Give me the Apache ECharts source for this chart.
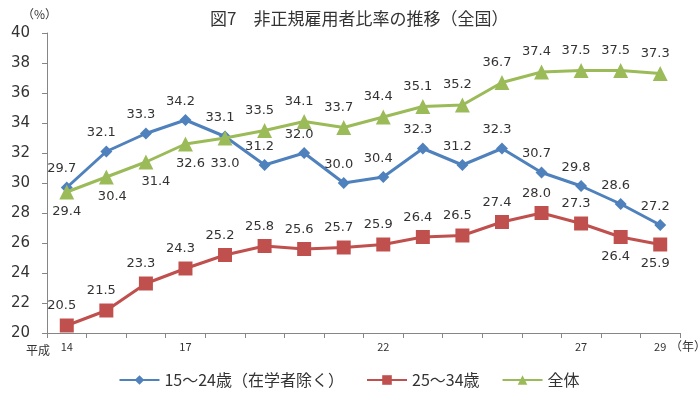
<!DOCTYPE html>
<html>
<head>
<meta charset="utf-8">
<script src="https://cdn.jsdelivr.net/npm/echarts@6/dist/echarts.min.js"></script>
<style>
html,body{margin:0;padding:0;background:#fff;}
#main{width:698px;height:401px;}
</style>
</head>
<body>
<div id="main"></div>
<script>
// 平成14〜29年
var years = ['14','15','16','17','18','19','20','21','22','23','24','25','26','27','28','29'];
var shownYears = ['14','17','22','27','29'];
var young = [29.7, 32.1, 33.3, 34.2, 33.1, 31.2, 32.0, 30.0, 30.4, 32.3, 31.2, 32.3, 30.7, 29.8, 28.6, 27.2];
var adult = [20.5, 21.5, 23.3, 24.3, 25.2, 25.8, 25.6, 25.7, 25.9, 26.4, 26.5, 27.4, 28.0, 27.3, 26.4, 25.9];
var total = [29.4, 30.4, 31.4, 32.6, 33.0, 33.5, 34.1, 33.7, 34.4, 35.1, 35.2, 36.7, 37.4, 37.5, 37.5, 37.3];

var font = '"Noto Sans CJK JP", "Noto Sans", sans-serif';
var numFont = '"DejaVu Sans", sans-serif';

// ラベル位置（上 / 下）
function labelData(vals, below, offsets) {
    return vals.map(function (v, i) {
        var isBelow = below.indexOf(i) >= 0;
        return {
            value: v,
            label: {
                position: isBelow ? 'bottom' : 'top',
                offset: offsets[i] || [-5, 0]
            }
        };
    });
}

var numLabel = {
    show: true,
    fontSize: 13,
    fontFamily: numFont,
    color: '#333',
    distance: 6,
    formatter: function (p) { return p.value.toFixed(1); }
};

var myChart = echarts.init(document.getElementById('main'));
var option = {
    animation: false,
    textStyle: {fontFamily: font},
    title: {
        text: '図7　非正規雇用者比率の推移（全国）',
        left: 205,
        top: 5,
        textStyle: {fontSize: 17, fontWeight: 'normal', color: '#333', fontFamily: font}
    },
    grid: {left: 47, right: 18, top: 33, bottom: 68},
    legend: {
        bottom: 8,
        left: 'center',
        itemWidth: 40,
        itemHeight: 12,
        itemGap: 22,
        textStyle: {fontSize: 16, color: '#333', fontFamily: font},
        data: ['15～24歳（在学者除く）', '25～34歳', '全体']
    },
    graphic: [
        {type: 'text', left: 22, top: 8, style: {text: '（%）', fill: '#333', font: '12px ' + font}},
        {type: 'text', left: 26, top: 344, style: {text: '平成', fill: '#333', font: '12px ' + font}},
        {type: 'text', left: 670, top: 340, style: {text: '（年）', fill: '#333', font: '12px ' + font}}
    ],
    xAxis: {
        type: 'category',
        data: years,
        boundaryGap: true,
        axisLine: {lineStyle: {color: '#868686', width: 1}},
        axisTick: {show: true, interval: 0, length: 5, lineStyle: {color: '#868686'}},
        axisLabel: {
            interval: 0,
            margin: 8,
            fontSize: 11,
            color: '#333',
            formatter: function (v) {
                return shownYears.indexOf(v) >= 0 ? v : '';
            }
        },
        splitLine: {show: false}
    },
    yAxis: {
        type: 'value',
        min: 20,
        max: 40,
        interval: 2,
        axisLine: {show: true, lineStyle: {color: '#868686', width: 1}},
        axisTick: {show: true, length: 5, lineStyle: {color: '#868686'}},
        axisLabel: {fontSize: 15, fontFamily: numFont, color: '#333', margin: 17},
        splitLine: {show: false}
    },
    series: [
        {
            name: '15～24歳（在学者除く）',
            type: 'line',
            data: labelData(young, [], {}),
            symbol: 'diamond',
            symbolSize: 12,
            lineStyle: {width: 3, color: '#4F81BD'},
            itemStyle: {color: '#4F81BD'},
            label: numLabel,
            z: 3
        },
        {
            name: '25～34歳',
            type: 'line',
            data: labelData(adult, [14, 15], {}),
            symbol: 'rect',
            symbolSize: 14,
            lineStyle: {width: 3, color: '#C0504D'},
            itemStyle: {color: '#C0504D'},
            label: numLabel,
            z: 2
        },
        {
            name: '全体',
            type: 'line',
            data: labelData(total, [0, 1, 2, 3, 4], {0: [0, 0], 1: [6, 0], 2: [10, 0], 3: [5, 0], 4: [0, 6]}),
            symbol: 'triangle',
            symbolSize: 15,
            lineStyle: {width: 3, color: '#9BBB59'},
            itemStyle: {color: '#9BBB59'},
            label: numLabel,
            z: 4
        }
    ]
};
myChart.setOption(option);
</script>
</body>
</html>
